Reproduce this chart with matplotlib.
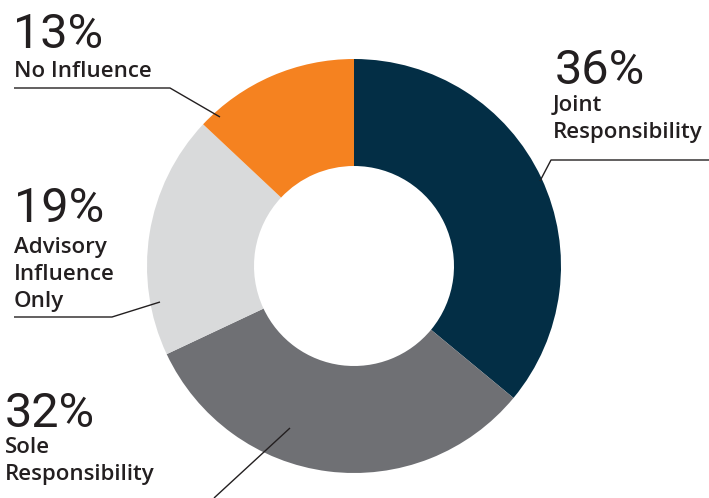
import matplotlib
matplotlib.use("Agg")
import matplotlib.pyplot as plt

categories = ["Joint\nResponsibility", "Sole\nResponsibility", "Advisory\nInfluence\nOnly", "No Influence"]
values = [36, 32, 19, 13]
pct_labels = ["36%", "32%", "19%", "13%"]
colors = ["#032e45", "#6f7074", "#d9dadb", "#f58220"]

W, H = 709, 498
fig = plt.figure(figsize=(W / 100, H / 100), dpi=100)
ax = fig.add_axes([0, 0, 1, 1])

cx, cy = 354, 266
R, r_in = 207, 100
ax.pie(values, colors=colors, startangle=90, counterclock=False,
       center=(cx, H - cy), radius=R,
       wedgeprops=dict(width=R - r_in, linewidth=0))
ax.set_xlim(0, W)
ax.set_ylim(0, H)
ax.set_aspect("equal")
ax.axis("off")

txt = "#231f20"
big = dict(fontsize=35, family="Roboto", fontweight="normal", color=txt, va="baseline", ha="left")
small = dict(fontsize=16, family="Open Sans", fontweight="semibold", color=txt, va="baseline", ha="left")

def Y(y):
    return H - y

# label positions: (pct x, pct baseline y, label x, first label baseline y)
pos = {
    "36%": (555, 84, 553, 111),
    "32%": (5, 427, 5, 453),
    "19%": (14, 222, 14, 253),
    "13%": (13, 48, 14, 77),
}
for lab, pct in zip(categories, pct_labels):
    px, py, lx, ly = pos[pct]
    ax.text(px, Y(py), pct, **big)
    for i, line in enumerate(lab.split("\n")):
        ax.text(lx, Y(ly + i * 27), line, **small)

# leader lines (pixel coords)
lines = [
    [(709, 160), (551, 160), (540, 181)],
    [(14, 88), (170, 88), (220, 117)],
    [(14, 317), (112, 317), (160, 302)],
    [(290, 428), (214, 498)],
]
for pts in lines:
    xs = [p[0] for p in pts]
    ys = [Y(p[1]) for p in pts]
    ax.plot(xs, ys, color="#231f20", lw=1.0, solid_capstyle="butt")

fig.savefig("out.png", dpi=100)
